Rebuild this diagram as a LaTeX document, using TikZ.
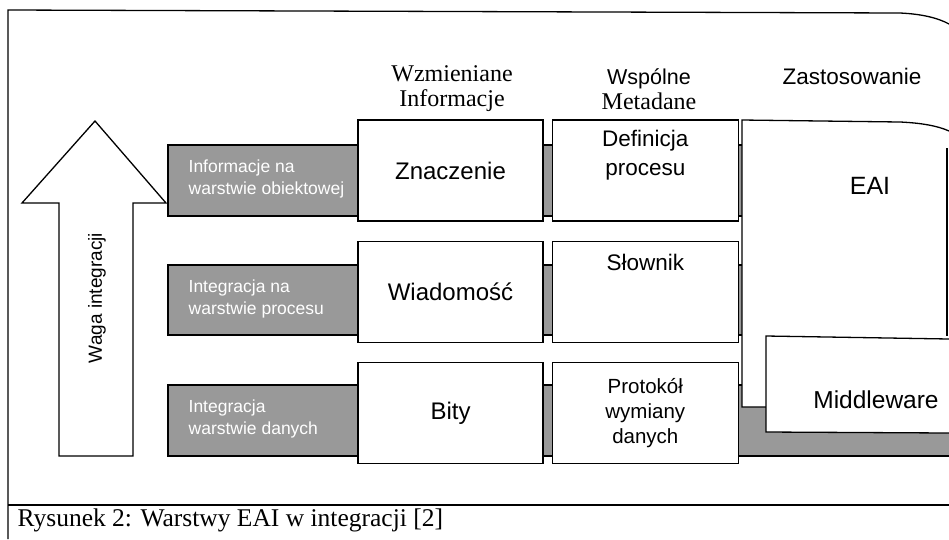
\documentclass[tikz,border=0pt]{standalone}
\usepackage{fontspec}
\setmainfont{Liberation Serif}
\setsansfont{Liberation Sans}
\usetikzlibrary{positioning}

\begin{document}
\begin{tikzpicture}[x=1pt, y=-1pt, line width=1.3pt,
  cell/.style={rectangle, draw, fill=white, minimum width=185pt, minimum height=101pt, inner sep=0pt, align=center, font=\sffamily\fontsize{24}{28}\selectfont},
  celltext/.style={inner sep=0pt, align=center, font=\sffamily\fontsize{22.5}{29}\selectfont},
  band/.style={draw, fill=black!40},
  bandtext/.style={anchor=west, align=left, inner sep=0pt, text=white, font=\sffamily\fontsize{17.5}{22}\selectfont},
  head/.style={inner sep=0pt, align=center, font=\fontsize{24}{25}\selectfont}]

  \useasboundingbox (0,0) rectangle (949,539);

  % frame and caption
  \draw (8,539) -- (8,10) -- (900,13) .. controls (922,14) and (938,18) .. (949,24);
  \draw (8,505) -- (949,505);
  \node[anchor=west, inner sep=0pt, font=\fontsize{25.5}{28}\selectfont] (caption) at (17,520) {Rysunek 2: Warstwy EAI w integracji [2]};

  % arrow
  \draw[fill=white] (59,456) -- (59,203) -- (22,203) -- (95,121) -- (166,203) -- (133,203) -- (133,456) -- cycle;
  \node[rotate=90, inner sep=0pt, font=\sffamily\fontsize{19}{22}\selectfont] (waga) at (97,298) {Waga integracji};

  % layer bands
  \draw[band] (168,145) rectangle (745,216);
  \draw[band] (168,265) rectangle (745,335);
  \fill[black!40] (168,385) rectangle (949,456);
  \draw (949,385) -- (168,385) -- (168,456) -- (949,456);
  \node[bandtext] (obiekt) at (188,179) {Informacje na\\warstwie obiektowej};
  \node[bandtext] (proces) at (188,299) {Integracja na\\warstwie procesu};
  \node[bandtext] (dane) at (188,419) {Integracja\\warstwie danych};

  % column headers
  \node[head] (wzmian) at (452,89) {Wzmieniane\\Informacje};
  \node[head] (wspol) at (649,89) {{\sffamily\fontsize{21.5}{25}\selectfont Wspólne}\\Metadane};
  \node[inner sep=0pt, font=\sffamily\fontsize{22.5}{24}\selectfont] (zastos) at (852,76) {Zastosowanie};

  % exchanged information
  \node[cell] (znacz) at (450.5,170.5) {Znaczenie};
  \node[cell, below=19pt of znacz] (wiadom) {Wiadomość};
  \node[cell, below=19pt of wiadom] (bity) {Bity};

  % shared metadata
  \node[cell, minimum width=186pt, right=8pt of znacz] (defin) {};
  \node[cell, minimum width=186pt, right=8pt of wiadom] (slown) {};
  \node[cell, minimum width=186pt, right=8pt of bity, font=\sffamily\fontsize{20.5}{25}\selectfont] (protok) {Protokół\\wymiany\\danych};
  \node[celltext, below=10pt of defin.north] (defint) {Definicja\\procesu};
  \node[celltext, below=13pt of slown.north] (slownt) {Słownik};

  % application
  \fill[white] (742,120) -- (900,122) .. controls (922,123) and (938,126) .. (949,131) -- (949,407) -- (742,407) -- cycle;
  \draw (766,407) -- (742,407) -- (742,120) -- (900,122) .. controls (922,123) and (938,126) .. (949,131);
  \draw (947,148) -- (947,336);
  \draw[fill=white] (949,339) -- (766,336) -- (766,432) -- (949,433);
  \node[inner sep=0pt, font=\sffamily\fontsize{25}{30}\selectfont] (eai) at (870,186) {EAI};
  \node[inner sep=0pt, font=\sffamily\fontsize{24.5}{30}\selectfont] (middle) at (876,400) {Middleware};

\end{tikzpicture}
\end{document}
